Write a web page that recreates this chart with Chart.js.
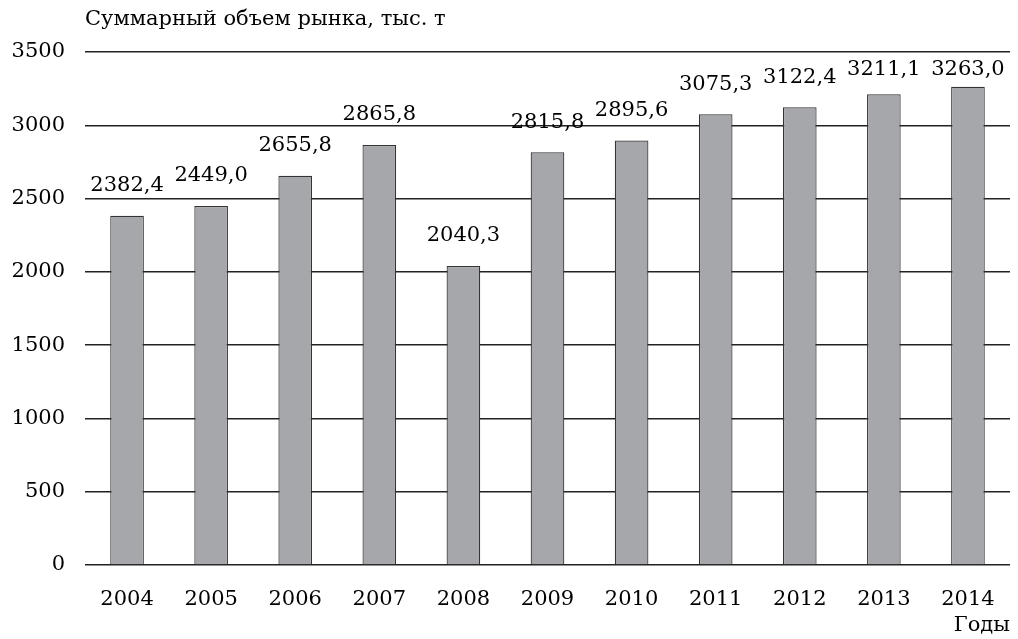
<!DOCTYPE html>
<html>
<head>
<meta charset="utf-8">
<script src="https://cdn.jsdelivr.net/npm/chart.js@4/dist/chart.umd.min.js"></script>
<style>
    html, body { margin: 0; padding: 0; background: #fff; }
    #wrap { width: 1018px; height: 639px; position: relative; }
</style>
</head>
<body>
<div id="wrap"><canvas id="myChart"></canvas></div>
<script>
// Data
const years = ['2004', '2005', '2006', '2007', '2008', '2009', '2010', '2011', '2012', '2013', '2014']
const volumes = [2382.4, 2449.0, 2655.8, 2865.8, 2040.3, 2815.8, 2895.6, 3075.3, 3122.4, 3211.1, 3263.0]
const yTicks = [0, 500, 1000, 1500, 2000, 2500, 3000, 3500]
const yTitle = 'Суммарный объем рынка, тыс. т'
const xTitle = 'Годы'

const FONT = '"DejaVu Serif", serif'

// value labels above bars + axis titles
const textPlugin = {
    id: 'textPlugin',
    afterDatasetsDraw(chart) {
        const ctx = chart.ctx
        const meta = chart.getDatasetMeta(0)
        ctx.save()
        ctx.fillStyle = '#000'
        ctx.font = '21px ' + FONT
        ctx.textAlign = 'center'
        ctx.textBaseline = 'middle'
        meta.data.forEach((bar, i) => {
            const txt = volumes[i].toFixed(1).replace('.', ',')
            // keep labels below the top grid line
            ctx.fillText(txt, bar.x, Math.max(bar.y - 30, chart.chartArea.top + 18))
        })
        ctx.textAlign = 'left'
        ctx.fillText(yTitle, chart.chartArea.left, 20)
        ctx.textAlign = 'right'
        ctx.fillText(xTitle, chart.chartArea.right, 626)
        ctx.restore()
    }
}

const canvas = document.getElementById('myChart')

var data = {
    labels: years,
    datasets: [
        {
            data: volumes,
            backgroundColor: '#a6a7aa',
            borderColor: '#333333',
            borderWidth: 1.2,
            barPercentage: 0.4,
            categoryPercentage: 1.0
        }
    ]
}

var options = {
    responsive: true,
    maintainAspectRatio: false,
    animation: false,
    layout: {
        padding: { top: 52, right: 8, bottom: 0, left: 0 }
    },
    plugins: {
        legend: { display: false },
        tooltip: { enabled: false }
    },
    scales: {
        x: {
            grid: { display: false },
            border: { display: false },
            ticks: { color: '#000', font: { family: FONT, size: 21 }, padding: 14 },
            afterFit(scale) { scale.height = 74 }
        },
        y: {
            min: 0,
            max: 3500,
            afterBuildTicks(scale) { scale.ticks = yTicks.map(v => ({ value: v })) },
            grid: { color: '#222', lineWidth: 1.5, drawTicks: false },
            border: { display: false },
            ticks: {
                color: '#000',
                font: { family: FONT, size: 21 },
                padding: 20,
                callback: (v) => String(v)
            },
            afterFit(scale) { scale.width = 85 }
        }
    }
}

var config = {
    type: 'bar',
    data: data,
    options: options,
    plugins: [textPlugin]
}

var myChart = new Chart(canvas, config)
</script>
</body>
</html>
